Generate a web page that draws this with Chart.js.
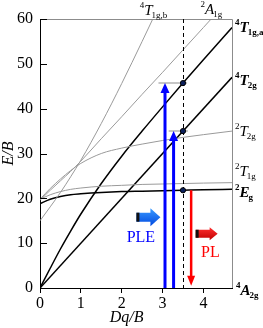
<!DOCTYPE html>
<html>
<head>
<meta charset="utf-8">
<script src="https://cdn.jsdelivr.net/npm/chart.js@4.4.1/dist/chart.umd.min.js"></script>
<style>
  html, body { margin: 0; padding: 0; background: #fff; }
  #wrap { width: 263px; height: 328px; }
</style>
</head>
<body>
<div id="wrap"><canvas id="ts"></canvas></div>
<script>
  'use strict'
  // Dq/B sample points
  const dq = [0, 0.25, 0.5, 0.75, 1, 1.5, 2, 2.5, 3, 3.5, 4, 4.7]
  const dqB = [0, 0.25, 0.5, 0.75, 1, 1.5, 2, 2.5, 3]
  const dqLin = [0, 4.7]

  // E/B values for each term
  const t1gA = [0, 4.4, 8.7, 12.7, 16.5, 23.3, 29.4, 35.0, 40.4, 45.7, 50.9, 58.1]
  const t2g4 = [0, 47]
  const t1gB = [15, 18.1, 21.3, 24.8, 28.5, 36.7, 45.6, 55.0, 64.6]
  const a1g2 = [19.6, 21.8, 23.9, 26.0, 28.3, 33.3, 38.2, 43.2, 48.1, 53.1, 58.1, 65.1]
  const t2g2 = [19.8, 22.2, 24.3, 26.2, 27.8, 30.0, 31.2, 32.1, 32.9, 33.6, 34.2, 35.0]
  const t1g2 = [19.8, 20.8, 21.5, 22.0, 22.3, 22.7, 22.9, 23.1, 23.2, 23.3, 23.4, 23.5]
  const eg2 = [18.8, 19.8, 20.4, 20.8, 21.0, 21.3, 21.5, 21.6, 21.7, 21.8, 21.9, 22.0]

  const xTicks = [0, 1, 2, 3, 4]
  const yTicks = [0, 10, 20, 30, 40, 50, 60]

  // excitation / emission
  const dqMark = 3.5
  const markE = [45.7, 35.0, 21.8]
  const pleX = [3.06, 3.27]
  const pleTop = [45.7, 35.0]
  const plX = 3.70
  const plFrom = 21.8
  const plTo = 0.5

  const serif = '"Liberation Serif", "DejaVu Serif", serif'

  function pts (xs, ys) {
    return xs.map((x, i) => ({ x, y: ys[i] }))
  }

  function line (data, color, width) {
    return {
      data,
      showLine: true,
      borderColor: color,
      borderWidth: width,
      pointRadius: 0,
      cubicInterpolationMode: 'monotone',
      fill: false
    }
  }

  // term symbol: superscript multiplicity, italic letter, subscript
  function drawTerm (ctx, x, y, sup, main, sub, bold) {
    const w = bold ? 'bold ' : ''
    ctx.fillStyle = '#000'
    ctx.textBaseline = 'alphabetic'
    ctx.textAlign = 'left'
    ctx.font = w + '9px ' + serif
    ctx.fillText(sup, x, y - 7)
    x += ctx.measureText(sup).width
    ctx.font = 'italic ' + w + '15px ' + serif
    ctx.fillText(main, x, y)
    x += ctx.measureText(main).width - 1
    ctx.font = w + '9px ' + serif
    ctx.fillText(sub, x, y + 3)
  }

  function blockArrow (ctx, x0, yc, len, bodyH, headH, headLen, dark, light) {
    const xh = x0 + len - headLen
    const g = ctx.createLinearGradient(0, yc - headH / 2, 0, yc + headH / 2)
    g.addColorStop(0, light)
    g.addColorStop(1, dark)
    ctx.beginPath()
    ctx.moveTo(x0, yc - bodyH / 2)
    ctx.lineTo(xh, yc - bodyH / 2)
    ctx.lineTo(xh, yc - headH / 2)
    ctx.lineTo(x0 + len, yc)
    ctx.lineTo(xh, yc + headH / 2)
    ctx.lineTo(xh, yc + bodyH / 2)
    ctx.lineTo(x0, yc + bodyH / 2)
    ctx.closePath()
    ctx.fillStyle = g
    ctx.fill()
    ctx.fillStyle = '#111'
    ctx.fillRect(x0, yc - bodyH / 2, 3, bodyH)
  }

  const decor = {
    id: 'decor',
    afterDatasetsDraw (chart) {
      const ctx = chart.ctx
      const xs = chart.scales.x
      const ys = chart.scales.y
      const a = chart.chartArea
      const X = (v) => xs.getPixelForValue(v)
      const Y = (v) => ys.getPixelForValue(v)
      ctx.save()

      // frame top / right
      ctx.strokeStyle = '#8c8c8c'
      ctx.lineWidth = 1
      ctx.beginPath()
      ctx.moveTo(a.left, a.top + 0.5)
      ctx.lineTo(a.right + 0.5, a.top + 0.5)
      ctx.lineTo(a.right + 0.5, a.bottom)
      ctx.stroke()

      // inner y ticks
      ctx.strokeStyle = '#000'
      ctx.beginPath()
      yTicks.forEach((t) => {
        const y = Math.round(Y(t)) + 0.5
        ctx.moveTo(a.left, y)
        ctx.lineTo(a.left + 7, y)
      })
      ctx.stroke()

      // dashed marker line
      ctx.setLineDash([4, 3])
      ctx.beginPath()
      ctx.moveTo(Math.round(X(dqMark)) + 0.5, a.top)
      ctx.lineTo(Math.round(X(dqMark)) + 0.5, a.bottom)
      ctx.stroke()
      ctx.setLineDash([])

      // short grey levels
      ctx.strokeStyle = '#b4b4b4'
      ctx.lineWidth = 1.5
      ctx.beginPath()
      ctx.moveTo(X(2.9), Y(pleTop[0]))
      ctx.lineTo(X(3.6), Y(pleTop[0]))
      ctx.moveTo(X(3.15), Y(pleTop[1]))
      ctx.lineTo(X(3.62), Y(pleTop[1]))
      ctx.stroke()

      // PLE arrows
      ctx.strokeStyle = '#0000ff'
      ctx.fillStyle = '#0000ff'
      ctx.lineWidth = 3
      pleX.forEach((x, i) => {
        const px = X(x)
        const top = Y(pleTop[i])
        ctx.beginPath()
        ctx.moveTo(px, a.bottom)
        ctx.lineTo(px, top + 8)
        ctx.stroke()
        ctx.beginPath()
        ctx.moveTo(px, top)
        ctx.lineTo(px - 4.5, top + 10)
        ctx.lineTo(px + 4.5, top + 10)
        ctx.closePath()
        ctx.fill()
      })

      // PL arrow
      ctx.strokeStyle = '#ff0000'
      ctx.fillStyle = '#ff0000'
      ctx.lineWidth = 2.5
      const rx = X(plX)
      const rb = Y(plTo)
      ctx.beginPath()
      ctx.moveTo(rx, Y(plFrom))
      ctx.lineTo(rx, rb - 8)
      ctx.stroke()
      ctx.beginPath()
      ctx.moveTo(rx, rb)
      ctx.lineTo(rx - 4, rb - 10)
      ctx.lineTo(rx + 4, rb - 10)
      ctx.closePath()
      ctx.fill()

      // level dots
      markE.forEach((e) => {
        ctx.beginPath()
        ctx.arc(X(dqMark), Y(e), 2.6, 0, Math.PI * 2)
        ctx.fillStyle = '#0a1f5c'
        ctx.fill()
        ctx.strokeStyle = '#000'
        ctx.lineWidth = 1
        ctx.stroke()
      })

      // block arrows and their texts
      blockArrow(ctx, X(2.36), Y(15.8), 24, 9, 18, 10, '#0048e0', '#3a9bff')
      blockArrow(ctx, X(3.81), Y(12.1), 22, 8, 13, 8, '#c00000', '#ff3030')
      ctx.textAlign = 'center'
      ctx.textBaseline = 'middle'
      ctx.font = '16px ' + serif
      ctx.fillStyle = '#0000ff'
      ctx.fillText('PLE', X(2.47), Y(11.3))
      ctx.fillStyle = '#ff0000'
      ctx.fillText('PL', X(4.17), Y(7.8))

      // term labels
      const lx = a.right + 3
      drawTerm(ctx, lx, Y(58.3) + 5, '4', 'T', '1g,a', true)
      drawTerm(ctx, lx, Y(46.3) + 5, '4', 'T', '2g', true)
      drawTerm(ctx, lx, Y(35.0) + 5, '2', 'T', '2g', false)
      drawTerm(ctx, lx, Y(26.0) + 5, '2', 'T', '1g', false)
      drawTerm(ctx, lx, Y(21.5) + 5, '2', 'E', 'g', true)
      drawTerm(ctx, lx + 1, Y(-0.7) + 4, '4', 'A', '2g', true)
      drawTerm(ctx, X(2.44), 15, '4', 'T', '1g,b', false)
      drawTerm(ctx, X(3.93), 14, '2', 'A', '1g', false)

      // axis titles
      ctx.fillStyle = '#000'
      ctx.font = 'italic 16px ' + serif
      ctx.textAlign = 'center'
      ctx.textBaseline = 'middle'
      ctx.fillText('Dq/B', X(2.12), 318)
      ctx.translate(9, (a.top + a.bottom) / 2)
      ctx.rotate(-Math.PI / 2)
      ctx.fillText('E/B', 0, 0)
      ctx.restore()
    }
  }

  const ctx = document.getElementById('ts').getContext('2d')
  const chart = new Chart(ctx, {
    type: 'scatter',
    data: {
      datasets: [
        line(pts(dqB, t1gB), '#9a9a9a', 1),
        line(pts(dq, a1g2), '#9a9a9a', 1),
        line(pts(dq, t2g2), '#9a9a9a', 1),
        line(pts(dq, t1g2), '#9a9a9a', 1),
        line(pts(dq, eg2), '#000', 1.5),
        line(pts(dq, t1gA), '#000', 1.5),
        line(pts(dqLin, t2g4), '#000', 1.5)
      ]
    },
    options: {
      responsive: true,
      maintainAspectRatio: false,
      animation: false,
      layout: { padding: { top: 19, right: 31, left: 0, bottom: 0 } },
      plugins: {
        legend: { display: false },
        tooltip: { enabled: false }
      },
      scales: {
        x: {
          type: 'linear',
          min: 0,
          max: 4.7,
          afterFit: (s) => { s.height = 40 },
          afterBuildTicks: (s) => { s.ticks = xTicks.map((v) => ({ value: v })) },
          grid: {
            drawOnChartArea: false,
            drawTicks: true,
            tickLength: 5,
            color: '#000'
          },
          border: { color: '#000', width: 1 },
          ticks: {
            color: '#000',
            padding: 1,
            maxRotation: 0,
            font: { family: serif, size: 16 }
          }
        },
        y: {
          type: 'linear',
          min: 0,
          max: 60,
          afterFit: (s) => { s.width = 40 },
          afterBuildTicks: (s) => { s.ticks = yTicks.map((v) => ({ value: v })) },
          grid: { drawOnChartArea: false, drawTicks: false },
          border: { color: '#000', width: 1 },
          ticks: {
            color: '#000',
            padding: 7,
            font: { family: serif, size: 16 }
          }
        }
      }
    },
    plugins: [decor]
  })
</script>
</body>
</html>
